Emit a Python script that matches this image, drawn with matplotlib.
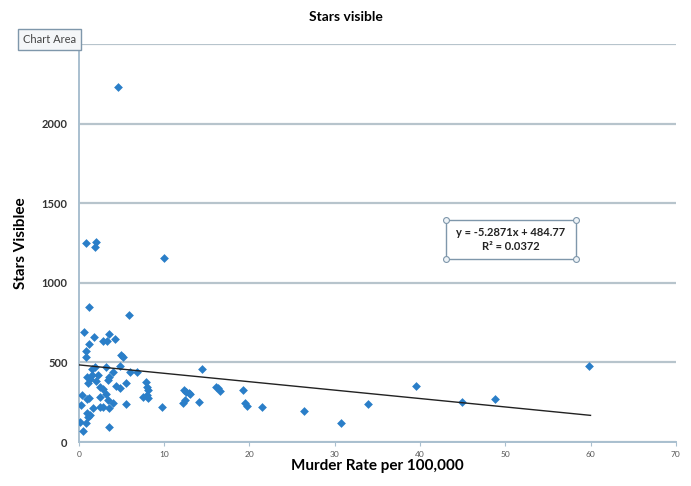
import numpy as np
import matplotlib.pyplot as plt

plt.rcParams['font.family'] = ['Lato', 'DejaVu Sans']

# Murder rate per 100,000 and stars visible
murder = [4.6, 0.8, 2.0, 1.9, 10.0, 1.2, 5.9, 0.6, 1.8, 2.85, 3.3, 3.6, 4.3,
          1.2, 0.9, 0.8, 4.9, 5.2, 4.8, 1.9, 3.2, 4.0, 6.0, 6.8, 14.4,
          1.0, 1.3, 1.6, 2.0, 1.1, 2.5, 2.8, 3.6, 3.4, 4.8, 5.5,
          7.9, 8.0, 8.1, 8.0, 7.5, 8.1, 9.8, 12.3, 12.6, 12.9, 13.0,
          12.2, 12.4, 14.1, 16.1, 16.3, 16.5, 19.2, 19.5, 19.7, 21.5,
          26.4, 30.7, 2.5, 3.2, 3.4, 0.4, 1.0, 1.2, 0.3, 1.0, 1.3, 1.7,
          2.5, 2.8, 3.6, 4.0, 5.5, 0.2, 1.1, 0.9, 0.5, 3.6,
          59.8, 39.5, 33.9, 44.9, 48.8, 2.2, 4.4, 1.5]
stars = [2230, 1250, 1255, 1225, 1155, 850, 798, 693, 662, 636, 634, 676, 645,
         615, 571, 536, 546, 536, 477, 473, 473, 441, 441, 441, 456,
         410, 395, 420, 385, 368, 347, 331, 410, 389, 337, 369,
         378, 347, 327, 295, 281, 274, 218, 327, 316, 306, 301,
         247, 264, 253, 347, 337, 322, 327, 243, 228, 218,
         197, 117, 285, 301, 264, 295, 268, 274, 232, 180, 170, 212,
         222, 222, 212, 247, 239, 127, 159, 117, 69, 96,
         477, 354, 239, 249, 270, 420, 350, 460]

slope = -5.2871
intercept = 484.77
r2 = 0.0372

fig = plt.figure(figsize=(6.91, 4.86), dpi=100)
ax = fig.add_axes([0.114, 0.0905, 0.864, 0.8185])

ax.scatter(murder, stars, marker='D', s=20, color='#2a7ec8', zorder=3, linewidths=0)
xs = np.array([0, 60])
ax.plot(xs, slope * xs + intercept, color='#222222', lw=1.0, zorder=4)

ax.set_xlim(0, 70)
ax.set_ylim(0, 2500)
ax.set_xticks(range(0, 71, 10))
ax.set_yticks([0, 500, 1000, 1500, 2000])
ax.yaxis.grid(True, color='#b7c4cc', lw=1.6)
ax.set_axisbelow(True)
ax.axhline(2500, color='#b7c4cc', lw=1.6, zorder=1)
for s in ['top', 'right']:
    ax.spines[s].set_visible(False)
for s in ['left', 'bottom']:
    ax.spines[s].set_color('#a9bfcf')
    ax.spines[s].set_linewidth(1.4)
ax.tick_params(axis='y', length=0, labelsize=8, pad=8, labelcolor='#333333')
ax.tick_params(axis='x', length=3, color='#a9bfcf', labelsize=6, labelcolor='#555555')
for lab in ax.get_yticklabels():
    lab.set_fontweight('bold')

ax.set_xlabel('Murder Rate per 100,000', fontsize=11, fontweight='bold', labelpad=1)
ax.set_ylabel('Stars Visiblee', fontsize=11, fontweight='bold', labelpad=10)
fig.text(0.5, 0.965, 'Stars visible', ha='center', va='center', fontsize=10, fontweight='bold')

fig.text(0.072, 0.918, 'Chart Area', ha='center', va='center', fontsize=8, color='#444444',
         bbox=dict(boxstyle='square,pad=0.45', fc='#f4f6f8', ec='#7f97ab', lw=1))

# trendline label with selection handles
bx0, bx1, by0, by1 = 43.0, 58.3, 1150, 1395
ax.plot([bx0, bx1, bx1, bx0, bx0], [by0, by0, by1, by1, by0], color='#7f97ab', lw=1, zorder=5)
ax.scatter([bx0, bx1, bx0, bx1], [by0, by0, by1, by1], s=18, facecolor='#eef3f7',
           edgecolor='#7f97ab', lw=0.8, zorder=6)
ax.text((bx0 + bx1) / 2, (by0 + by1) / 2, f'y = {slope}x + {intercept}\nR² = {r2}',
        ha='center', va='center', fontsize=8, fontweight='bold', color='#222222',
        linespacing=1.3, zorder=6)

fig.savefig('out.png', dpi=100)
